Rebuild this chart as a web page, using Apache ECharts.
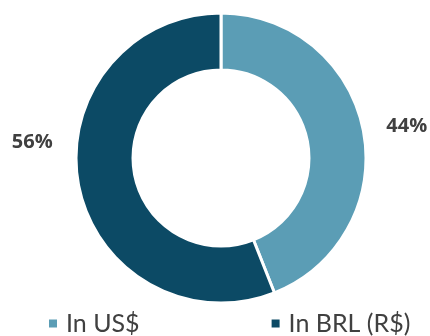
<!DOCTYPE html>
<html><head><meta charset="utf-8">
<script src="https://cdn.jsdelivr.net/npm/echarts@6/dist/echarts.min.js"></script>
<style>html,body{margin:0;padding:0;background:#fff}#c{width:430px;height:336px}</style>
</head><body><div id="c"></div>
<script>
const categories = ["In US$", "In BRL (R$)"];
const values = [44, 56];
const colors = ["#5b9db5", "#0c4a65"];
const chart = echarts.init(document.getElementById('c'));
chart.setOption({
  animation: false,
  legend: {
    bottom: -5, left: 42,
    itemWidth: 10, itemHeight: 10, itemGap: 130,
    icon: 'rect',
    textStyle: { fontFamily: 'Lato', fontSize: 25, color: '#404040', padding: [0, 0, 0, 3] },
    data: categories
  },
  series: [{
    type: 'pie',
    center: [221, 158],
    radius: [88, 145],
    startAngle: 90,
    clockwise: true,
    itemStyle: { borderColor: '#fff', borderWidth: 3 },
    labelLine: { show: false, length: 10, length2: 0 },
    label: {
      show: true, position: 'outside',
      formatter: '{d}%',
      fontFamily: 'Open Sans', fontWeight: 'bold', fontSize: 20, color: '#404040'
    },
    data: categories.map((n, i) => ({
      name: n, value: values[i], itemStyle: { color: colors[i] },
      label: i === 0 ? { offset: [8, -3] } : { offset: [-11, -45] }
    }))
  }]
});
</script></body></html>
